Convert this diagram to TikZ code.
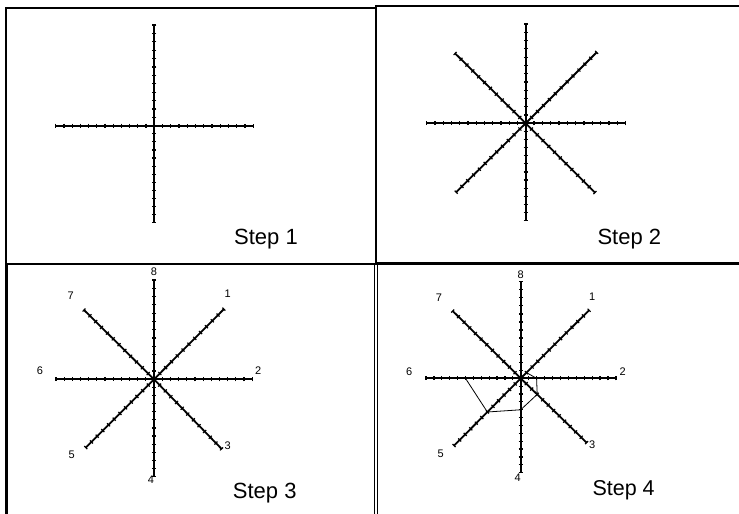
\documentclass[tikz,border=0pt]{standalone}
\usepackage{fontspec}
\setmainfont{Liberation Sans}
\usetikzlibrary{calc,decorations.markings}
\tikzset{
  frame/.style={line width=2.5pt},
  thinframe/.style={line width=1.1pt},
  arm/.style={line width=1.8pt, postaction={decorate},
    decoration={markings, mark=between positions 0 and 1 step 0.0833 with {\draw[line width=1.2pt] (0,-2.1pt) -- (0,2.1pt);}}},
  poly/.style={line width=0.8pt},
  steplabel/.style={font=\fontsize{22}{26}\selectfont, inner sep=0pt, anchor=base west},
  dirlabel/.style={font=\fontsize{11}{13}\selectfont, inner sep=0pt, anchor=center}
}
\begin{document}
\begin{tikzpicture}[x=1pt,y=-1pt]
\useasboundingbox (0,0) rectangle (739,514);
% frames
\draw[frame] (6,8) rectangle (376,264);
\draw[frame] (739,6) -- (376,6) -- (376,263.5) -- (739,263.5);
\draw[frame] (6.5,264) -- (6.5,514);
\draw[thinframe] (374.3,264) -- (374.3,514);
\draw[thinframe] (377.5,263.5) -- (377.5,514);

% Panel 1
\coordinate (c1) at (154.3,125.7);
\coordinate (c1-2) at (253.3,125.7);
\coordinate (c1-4) at (154.3,222.7);
\coordinate (c1-6) at (55.7,125.7);
\coordinate (c1-8) at (154.3,25);
\foreach \k in {2,4,6,8} \draw[arm] (c1) -- (c1-\k);
\node[steplabel] (s1) at (234,244.4) {Step 1};

% Panel 2
\coordinate (c2) at (525.7,123.3);
\coordinate (c2-1) at (596.7,52.3);
\coordinate (c2-2) at (625.7,123.3);
\coordinate (c2-3) at (595,192.7);
\coordinate (c2-4) at (525.7,220.7);
\coordinate (c2-5) at (456,192.3);
\coordinate (c2-6) at (426.7,123.3);
\coordinate (c2-7) at (455,53.3);
\coordinate (c2-8) at (525.7,24);
\foreach \k in {1,...,8} \draw[arm] (c2) -- (c2-\k);
\node[steplabel] (s2) at (597.3,244.3) {Step 2};

% Panel 3
\coordinate (c3) at (154,379.3);
\coordinate (c3-1) at (224,309);
\coordinate (c3-2) at (252.3,379.3);
\coordinate (c3-3) at (221.7,449);
\coordinate (c3-4) at (154,476.7);
\coordinate (c3-5) at (85.7,447.7);
\coordinate (c3-6) at (56,379.3);
\coordinate (c3-7) at (84,310);
\coordinate (c3-8) at (154,280);
\foreach \k in {1,...,8} \draw[arm] (c3) -- (c3-\k);
\node[dirlabel] (l3-8) at (154,271.7) {8};
\node[dirlabel] (l3-1) at (227.7,293.3) {1};
\node[dirlabel] (l3-2) at (258.3,370.7) {2};
\node[dirlabel] (l3-3) at (227.7,446) {3};
\node[dirlabel] (l3-4) at (151,480) {4};
\node[dirlabel] (l3-5) at (71.7,455) {5};
\node[dirlabel] (l3-6) at (40,370.7) {6};
\node[dirlabel] (l3-7) at (70.7,295.7) {7};
\node[steplabel] (s3) at (232.7,498.3) {Step 3};

% Panel 4
\coordinate (c4) at (520.7,378.3);
\coordinate (c4-1) at (589.3,310);
\coordinate (c4-2) at (616,378.3);
\coordinate (c4-3) at (586.7,442.7);
\coordinate (c4-4) at (520.7,472.7);
\coordinate (c4-5) at (454,445.7);
\coordinate (c4-6) at (426,378.3);
\coordinate (c4-7) at (452.7,311);
\coordinate (c4-8) at (520.7,281.7);
\foreach \k in {1,...,8} \draw[arm] (c4) -- (c4-\k);
\draw[poly] ($(c4)!7/12!(c4-6)$) -- ($(c4)!6/12!(c4-5)$) -- ($(c4)!4/12!(c4-4)$)
  -- ($(c4)!3/12!(c4-3)$) -- ($(c4)!2/12!(c4-2)$) -- ($(c4)!1/12!(c4-1)$) -- (c4) -- cycle;
\node[dirlabel] (l4-8) at (520.7,275) {8};
\node[dirlabel] (l4-1) at (592.3,296.7) {1};
\node[dirlabel] (l4-2) at (622.7,371.7) {2};
\node[dirlabel] (l4-3) at (592.3,445) {3};
\node[dirlabel] (l4-4) at (517.7,477.7) {4};
\node[dirlabel] (l4-5) at (440.7,454) {5};
\node[dirlabel] (l4-6) at (409.3,371.7) {6};
\node[dirlabel] (l4-7) at (439,297.7) {7};
\node[steplabel, font=\fontsize{21.5}{26}\selectfont] (s4) at (592.3,495) {Step 4};
\end{tikzpicture}
\end{document}
